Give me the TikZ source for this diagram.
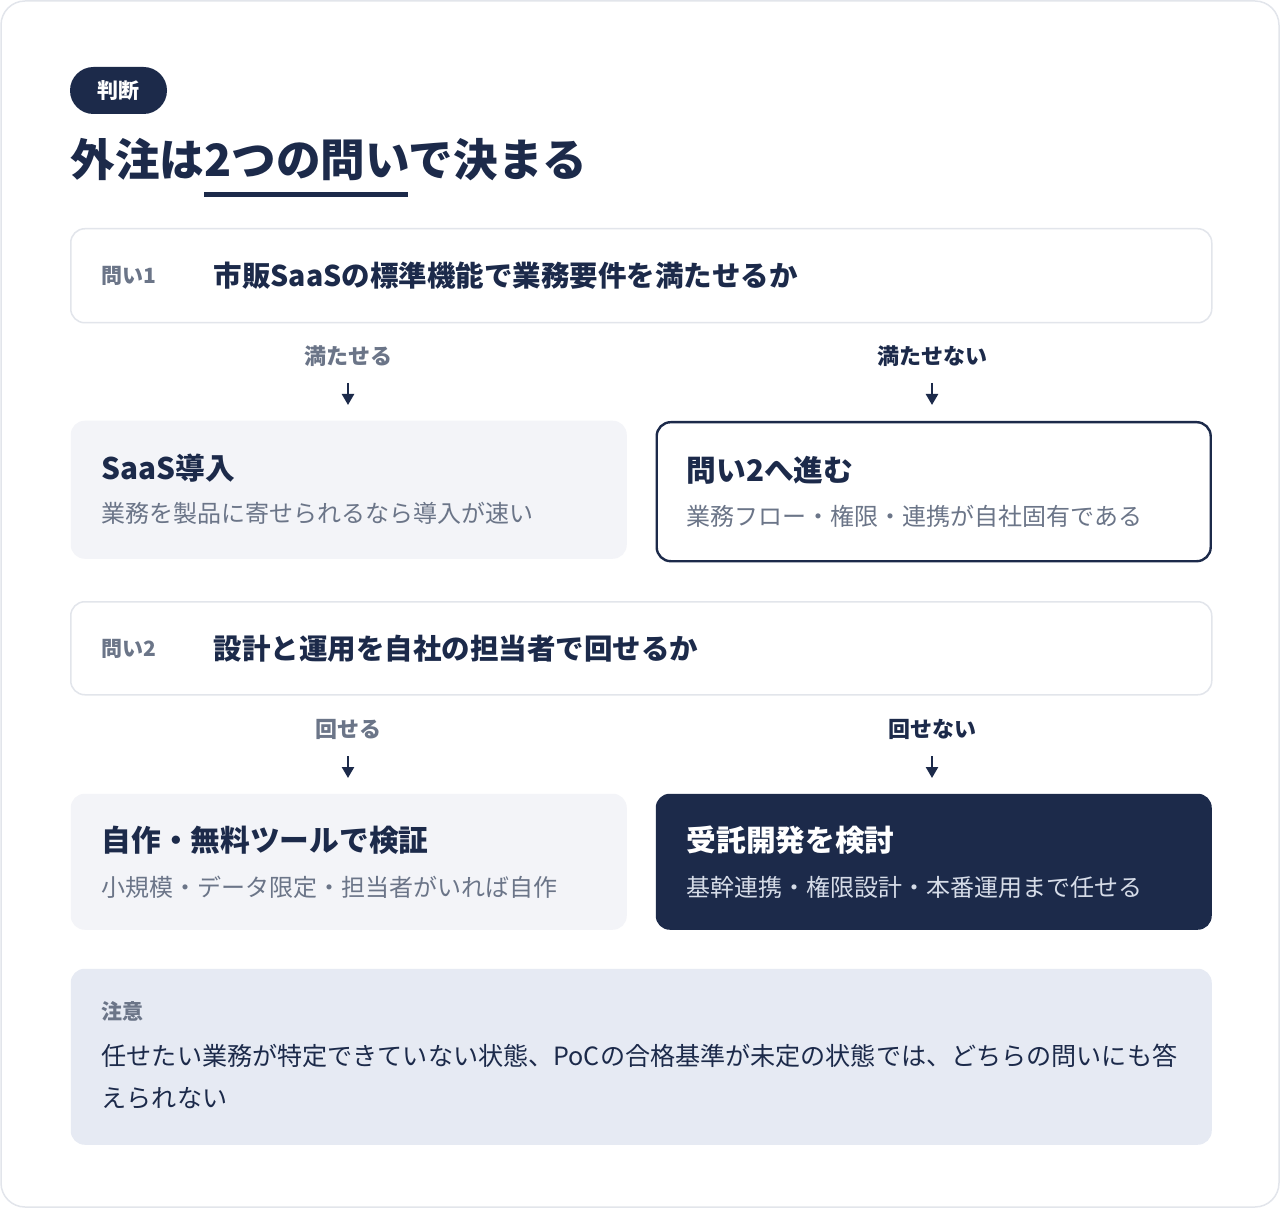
\documentclass[tikz,border=0pt]{standalone}
\usepackage{fontspec}
\setmainfont{Noto Sans CJK JP}
\usetikzlibrary{arrows.meta}
\definecolor{navy}{RGB}{28,42,74}
\definecolor{slate}{RGB}{107,117,136}
\definecolor{cardline}{RGB}{226,229,235}
\definecolor{panel}{RGB}{243,244,248}
\definecolor{notefill}{RGB}{230,234,243}
\definecolor{subwhite}{RGB}{214,220,232}
\tikzset{every picture/.style={line width=0.75pt}}

\begin{document}
\begin{tikzpicture}[x=0.5pt,y=0.5pt,yscale=-1,xscale=1,
  card/.style={anchor=north west,inner sep=0pt,rounded corners=7pt},
  tag/.style={fill=navy,text=white,inner sep=0pt,rounded corners=11.75pt,minimum width=48.5pt,minimum height=23.5pt,font=\bfseries\fontsize{10.5}{12}\selectfont},
  headline/.style={anchor=west,inner sep=0pt,text=navy,font=\bfseries\fontsize{22.3}{26}\selectfont},
  qlabel/.style={anchor=west,inner sep=0pt,text=slate,font=\bfseries\fontsize{10.5}{12}\selectfont},
  qtext/.style={anchor=west,inner sep=0pt,text=navy,font=\bfseries\fontsize{14.25}{17}\selectfont},
  branch/.style={inner sep=0pt,font=\bfseries\fontsize{11}{13}\selectfont},
  ttl/.style={anchor=west,inner sep=0pt,font=\bfseries\fontsize{14.85}{18}\selectfont},
  sub/.style={anchor=west,inner sep=0pt,font=\fontsize{12}{14}\selectfont},
  arr/.style={draw=navy,line width=1.2pt,-{Triangle[length=5.5pt,width=6pt]}}]
\useasboundingbox (0,0) rectangle (1280,1208);

%Shape: Outer card
\draw [draw=cardline,fill=white,line width=0.75pt,rounded corners=12pt] (1,1) rectangle (1279,1207);

% Tag
\node [tag] (tagJudge) at (118.5,90.5) {判断};
% Headline
\node [headline] (head) at (70,160) {外注は2つの問いで決まる};
\fill [navy] (204,192) rectangle (408,197);

%Shape: Question 1
\node [card,draw=cardline,fill=white,minimum width=570.5pt,minimum height=47pt] (boxQone) at (70,228) {};
\node [qlabel] (lblQone) at (101,276) {問い1};
\node [qtext] (txtQone) at (213,276) {市販SaaSの標準機能で業務要件を満たせるか};

% Branch labels 1
\node [branch,text=slate] (yesOne) at (348,356) {満たせる};
\node [branch,text=navy] (noOne) at (932,356) {満たせない};
\coordinate (yesOneEnd) at (348,405);
\coordinate (noOneEnd) at (932,405);
\draw [arr] ([yshift=13.5pt]yesOne.center) -- (yesOneEnd);
\draw [arr] ([yshift=13.5pt]noOne.center) -- (noOneEnd);

%Shape: SaaS box
\node [card,fill=panel,minimum width=278pt,minimum height=69pt] (boxSaas) at (70,420) {};
\node [ttl,text=navy] (ttlSaas) at (101,468) {SaaS導入};
\node [sub,text=slate] (subSaas) at (101,513) {業務を製品に寄せられるなら導入が速い};

%Shape: Go to question 2
\node [card,draw=navy,line width=1.2pt,fill=white,minimum width=277pt,minimum height=69.5pt] (boxNext) at (655.5,421) {};
\node [ttl,text=navy] (ttlNext) at (686,470) {問い2へ進む};
\node [sub,text=slate] (subNext) at (686,516) {業務フロー・権限・連携が自社固有である};

%Shape: Question 2
\node [card,draw=cardline,fill=white,minimum width=570.5pt,minimum height=46.5pt] (boxQtwo) at (70,601) {};
\node [qlabel] (lblQtwo) at (101,649) {問い2};
\node [qtext] (txtQtwo) at (213,649) {設計と運用を自社の担当者で回せるか};

% Branch labels 2
\node [branch,text=slate] (yesTwo) at (348,729) {回せる};
\node [branch,text=navy] (noTwo) at (932,729) {回せない};
\coordinate (yesTwoEnd) at (348,778);
\coordinate (noTwoEnd) at (932,778);
\draw [arr] ([yshift=13.5pt]yesTwo.center) -- (yesTwoEnd);
\draw [arr] ([yshift=13.5pt]noTwo.center) -- (noTwoEnd);

%Shape: In-house box
\node [card,fill=panel,minimum width=278pt,minimum height=68pt] (boxSelf) at (70,793) {};
\node [ttl,text=navy] (ttlSelf) at (101,840) {自作・無料ツールで検証};
\node [sub,text=slate] (subSelf) at (101,887) {小規模・データ限定・担当者がいれば自作};

%Shape: Outsource box
\node [card,fill=navy,minimum width=278pt,minimum height=68pt] (boxOut) at (655,793) {};
\node [ttl,text=white] (ttlOut) at (686,840) {受託開発を検討};
\node [sub,text=subwhite] (subOut) at (686,887) {基幹連携・権限設計・本番運用まで任せる};

%Shape: Note
\node [card,fill=notefill,minimum width=570.5pt,minimum height=88pt] (boxNote) at (70,968) {};
\node [qlabel] (lblNote) at (101,1011) {注意};
\node [anchor=west,inner sep=0pt,text=navy,align=left,font=\fontsize{12.55}{21}\selectfont] (txtNote) at (101,1077) {任せたい業務が特定できていない状態、PoCの合格基準が未定の状態では、どちらの問いにも答\\えられない};

\end{tikzpicture}
\end{document}
